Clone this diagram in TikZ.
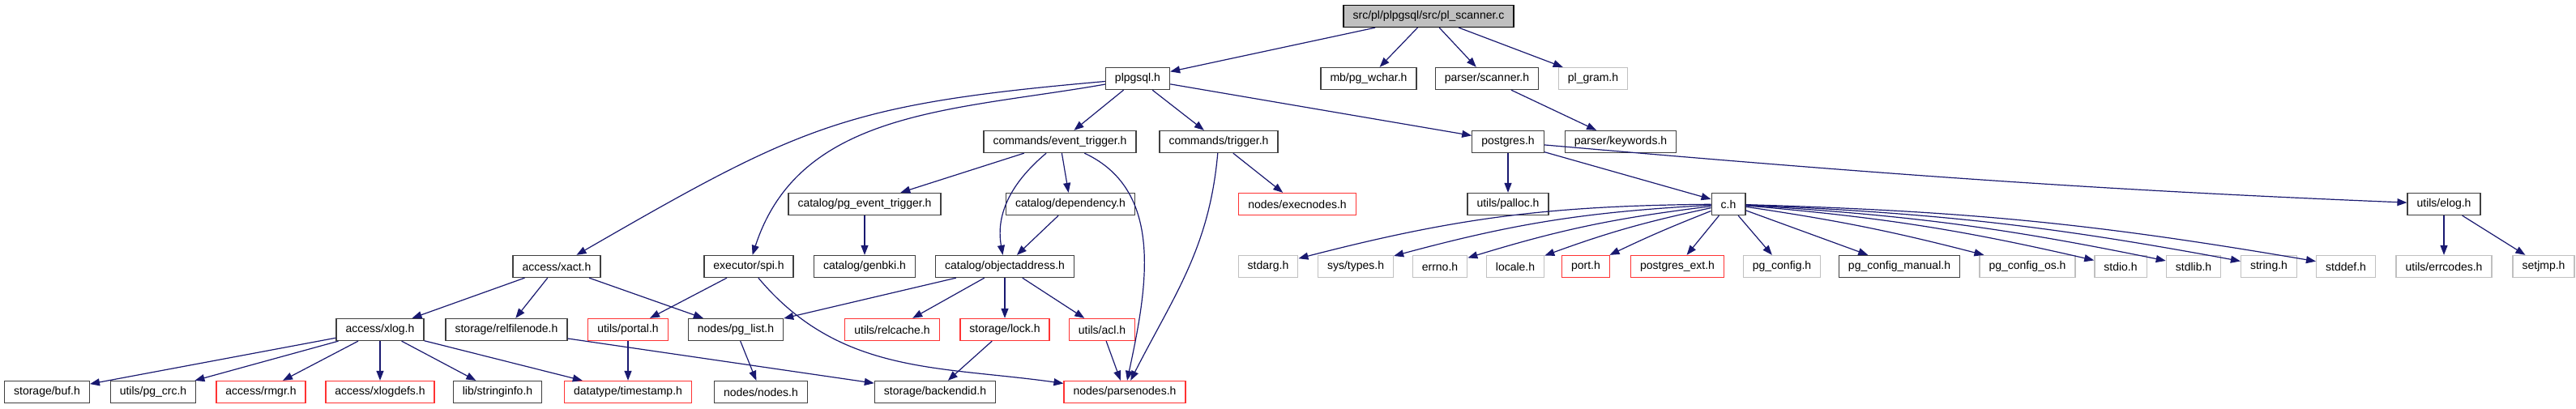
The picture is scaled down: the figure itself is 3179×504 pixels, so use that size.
\documentclass[tikz,border=0pt]{standalone}
\usepackage{fontspec}
\setmainfont{Liberation Sans}
\usetikzlibrary{arrows.meta,positioning}
\definecolor{edgeblue}{HTML}{191970}
\definecolor{boxgray}{HTML}{C0C0C0}
\definecolor{boxred}{HTML}{FF3333}
\definecolor{boxdark}{HTML}{404040}
\tikzset{>={Triangle[length=12pt,width=9pt]}}

\begin{document}
\begin{tikzpicture}[x=1pt, y=1pt, font=\fontsize{14}{16}\selectfont,
		hdr/.style={draw=boxdark, line width=1.3pt, minimum height=27pt, inner xsep=11.5pt, inner ysep=0pt},
		nodoc/.style={hdr, draw=boxgray},
		trunc/.style={hdr, draw=boxred},
		dep/.style={->, draw=edgeblue, line width=1.2pt}]
		\useasboundingbox (0,0) rectangle (3179,504);

		% source file and first level
		\node[hdr, fill=boxgray, draw=black] (scanc) at (1763,484) {src/pl/plpgsql/src/pl\_scanner.c};
		\node[hdr]   (plpgsql)  at (1404,407) {plpgsql.h};
		\node[hdr]   (pgwchar)  at (1689,407) {mb/pg\_wchar.h};
		\node[hdr]   (scanner)  at (1835,407) {parser/scanner.h};
		\node[nodoc] (plgram)   at (1966,407) {pl\_gram.h};

		\node[hdr]   (evttrig)  at (1308,329) {commands/event\_trigger.h};
		\node[hdr]   (trigger)  at (1504,329) {commands/trigger.h};
		\node[hdr]   (postgres) at (1861,329) {postgres.h};
		\node[hdr]   (keywords) at (2000,329) {parser/keywords.h};

		\node[hdr]   (pgevt)    at (1067,252) {catalog/pg\_event\_trigger.h};
		\node[hdr]   (depend)   at (1321,252) {catalog/dependency.h};
		\node[trunc] (execnd)   at (1601,252) {nodes/execnodes.h};
		\node[hdr]   (palloc)   at (1861,252) {utils/palloc.h};
		\node[hdr]   (ch)       at (2133,252) {c.h};
		\node[hdr]   (elog)     at (3016,252) {utils/elog.h};

		% row of c.h includes
		\node[hdr]   (xact)     at (687,175)  {access/xact.h};
		\node[hdr]   (spi)      at (924,175)  {executor/spi.h};
		\node[hdr]   (genbki)   at (1067,175) {catalog/genbki.h};
		\node[hdr]   (objaddr)  at (1240,175) {catalog/objectaddress.h};
		\node[nodoc] (stdarg)   at (1565,175) {stdarg.h};
		\node[nodoc] (systypes) at (1673,175) {sys/types.h};
		\node[nodoc] (errno)    at (1777,175) {errno.h};
		\node[nodoc] (locale)   at (1870,175) {locale.h};
		\node[trunc] (port)     at (1957,175) {port.h};
		\node[trunc] (pgext)    at (2070,175) {postgres\_ext.h};
		\node[nodoc] (pgcfg)    at (2199,175) {pg\_config.h};
		\node[hdr]   (pgcfgman) at (2344,175) {pg\_config\_manual.h};
		\node[nodoc] (pgcfgos)  at (2502,175) {pg\_config\_os.h};
		\node[nodoc] (stdio)    at (2617,175) {stdio.h};
		\node[nodoc] (stdlib)   at (2707,175) {stdlib.h};
		\node[nodoc] (string)   at (2800,175) {string.h};
		\node[nodoc] (stddef)   at (2895,175) {stddef.h};
		\node[nodoc] (errcodes) at (3016,175) {utils/errcodes.h};
		\node[nodoc] (setjmp)   at (3139,175) {setjmp.h};

		\node[hdr]   (xlog)     at (469,97)   {access/xlog.h};
		\node[hdr]   (relfile)  at (625,97)   {storage/relfilenode.h};
		\node[trunc] (portal)   at (775,97)   {utils/portal.h};
		\node[hdr]   (pglist)   at (908,97)   {nodes/pg\_list.h};
		\node[trunc] (relcache) at (1101,97)  {utils/relcache.h};
		\node[trunc] (lock)     at (1240,97)  {storage/lock.h};
		\node[trunc] (acl)      at (1360,97)  {utils/acl.h};

		% bottom row
		\node[hdr]   (buf)      at (58,20)    {storage/buf.h};
		\node[hdr]   (pgcrc)    at (189,20)   {utils/pg\_crc.h};
		\node[trunc] (rmgr)     at (322,20)   {access/rmgr.h};
		\node[trunc] (xlogdefs) at (469,20)   {access/xlogdefs.h};
		\node[hdr]   (strinfo)  at (614,20)   {lib/stringinfo.h};
		\node[trunc] (tstamp)   at (775,20)   {datatype/timestamp.h};
		\node[hdr]   (nodes)    at (939,20)   {nodes/nodes.h};
		\node[hdr]   (backid)   at (1154,20)  {storage/backendid.h};
		\node[trunc] (parsend)  at (1388,20)  {nodes/parsenodes.h};

		% includes of the source file
		\draw[dep] (scanc) -- (plpgsql);
		\draw[dep] (scanc) -- (pgwchar);
		\draw[dep] (scanc) -- (scanner);
		\draw[dep] (scanc) -- (plgram);
		\draw[dep] (scanner) -- (keywords);

		% plpgsql.h
		\draw[dep] (plpgsql) to[out=185, in=30, looseness=1.2] (xact);
		\draw[dep] (plpgsql) to[out=190, in=72] (spi);
		\draw[dep] (plpgsql) -- (evttrig);
		\draw[dep] (plpgsql) -- (trigger);
		\draw[dep] (plpgsql) -- (postgres);

		% commands
		\draw[dep] (evttrig) -- (pgevt);
		\draw[dep] (evttrig) -- (depend);
		\draw[dep] (evttrig) to[out=-140, in=100] (objaddr);
		\draw[dep] (evttrig) to[out=-25, in=78] (parsend);
		\draw[dep] (trigger) -- (execnd);
		\draw[dep] (trigger) to[out=-95, in=63] (parsend);

		% catalog
		\draw[dep] (pgevt) -- (genbki);
		\draw[dep] (depend) -- (objaddr);
		\draw[dep] (objaddr) -- (pglist);
		\draw[dep] (objaddr) -- (relcache);
		\draw[dep] (objaddr) -- (lock);
		\draw[dep] (objaddr) -- (acl);

		% access and executor
		\draw[dep] (xact) -- (xlog);
		\draw[dep] (xact) -- (relfile);
		\draw[dep] (xact) -- (pglist);
		\draw[dep] (spi) -- (portal);
		\draw[dep] (spi) to[out=-50, in=172] (parsend);
		\draw[dep] (xlog) -- (buf);
		\draw[dep] (xlog) -- (pgcrc);
		\draw[dep] (xlog) -- (rmgr);
		\draw[dep] (xlog) -- (xlogdefs);
		\draw[dep] (xlog) -- (strinfo);
		\draw[dep] (xlog) -- (tstamp);
		\draw[dep] (relfile) -- (backid);
		\draw[dep] (portal) -- (tstamp);
		\draw[dep] (pglist) -- (nodes);
		\draw[dep] (lock) -- (backid);
		\draw[dep] (acl) -- (parsend);

		% postgres.h and c.h
		\draw[dep] (postgres) -- (palloc);
		\draw[dep] (postgres) -- (ch);
		\draw[dep] (postgres) .. controls +(480,-42) and +(-415,17) .. (elog);
		\draw[dep] (ch) to[bend right=7] (stdarg);
		\draw[dep] (ch) to[bend right=6] (systypes);
		\draw[dep] (ch) to[bend right=5] (errno);
		\draw[dep] (ch) to[bend right=4] (locale);
		\draw[dep] (ch) to[bend right=2] (port);
		\draw[dep] (ch) -- (pgext);
		\draw[dep] (ch) -- (pgcfg);
		\draw[dep] (ch) -- (pgcfgman);
		\draw[dep] (ch) to[bend left=3] (pgcfgos);
		\draw[dep] (ch) to[bend left=4] (stdio);
		\draw[dep] (ch) to[bend left=4] (stdlib);
		\draw[dep] (ch) to[bend left=4] (string);
		\draw[dep] (ch) to[bend left=4] (stddef);
		\draw[dep] (elog) -- (errcodes);
		\draw[dep] (elog) -- (setjmp);
\end{tikzpicture}
\end{document}
